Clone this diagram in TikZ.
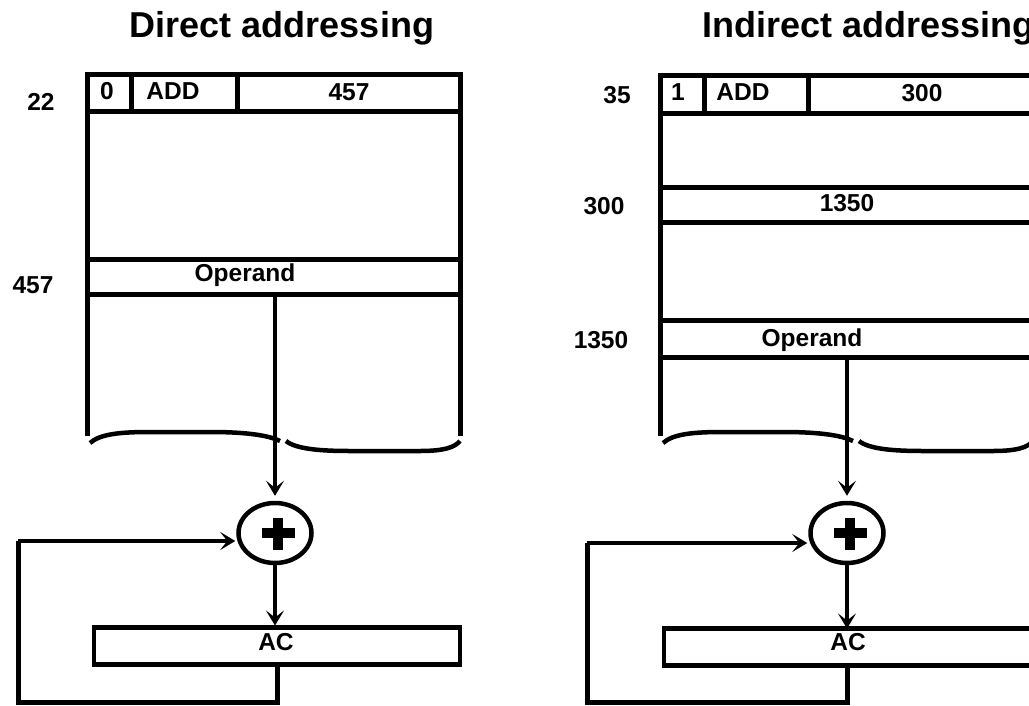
\documentclass[tikz,border=0pt]{standalone}
\usepackage{fontspec}
\setmainfont{Liberation Sans}
\usetikzlibrary{arrows.meta,shapes.geometric}

\tikzset{
  memline/.style={line width=5pt},
  title/.style={font=\fontsize{36}{40}\selectfont\bfseries, anchor=base, inner sep=0pt},
  lbl/.style={font=\fontsize{24.5}{28}\selectfont\bfseries, anchor=base, inner sep=0pt},
  rowbox/.style={draw, line width=5pt, minimum width=373pt, inner sep=0pt, outer sep=0pt},
  accbox/.style={draw, line width=4.5pt, inner sep=0pt, outer sep=0pt},
  adder/.style={draw, ellipse, line width=4.5pt, minimum width=73pt, minimum height=60pt, inner sep=0pt},
  arr/.style={line width=4pt, -{Stealth[length=15pt,width=18pt,inset=7pt]}},
  loopline/.style={line width=5pt, line join=miter},
  bracecurve/.style={line width=4.5pt},
}

% the bold plus sign drawn inside an adder
\newcommand{\plussign}[1]{%
  \fill ([shift={(-13,-5)}]#1.center) rectangle ([shift={(20,5)}]#1.center);
  \fill ([shift={(-2,-15)}]#1.center) rectangle ([shift={(8,17)}]#1.center);
}
% the wavy lower edge of a memory block
\newcommand{\membrace}{%
  \draw[bracecurve] (90,443) .. controls (100,434) and (120,432) .. (150,432)
      -- (210,432) .. controls (250,432) and (270,436) .. (280,441);
  \draw[bracecurve] (286,441) .. controls (296,449) and (320,451) .. (350,451)
      -- (420,451) .. controls (445,451) and (455,447) .. (460,441);
}

\begin{document}
\begin{tikzpicture}[x=1pt,y=-1pt]
\useasboundingbox (0,0) rectangle (1029,705);
\clip (0,0) rectangle (1029,705);

% ---------------- Direct addressing ----------------
\node[title] (tA) at (282,37) {Direct addressing};

% memory block
\draw[memline] (87,436) -- (87,74) -- (460,74) -- (460,436);
\draw[memline] (85,111) -- (462,111);
\draw[memline] (131,74) -- (131,111);
\draw[memline] (237,74) -- (237,111);
\node[rowbox, minimum height=35pt] (opA) at (273.5,276.5) {};
\membrace

\node[lbl] (a22) at (41,110) {22};
\node[lbl] (a457) at (33,293) {457};
\node[lbl] (bitA) at (107,99) {0};
\node[lbl] (opcA) at (173,99) {ADD};
\node[lbl] (adrA) at (349,100) {457};
\node[lbl] (operA) at (245,281) {Operand};

% adder and accumulator
\node[adder] (plusA) at (275,533) {};
\plussign{plusA}
\node[accbox, minimum width=366pt, minimum height=37pt] (acA) at (277,646) {};
\node[lbl] (acTA) at (276,650) {AC};

\coordinate (retA) at (18,541);
\draw[arr, shorten >=5pt] (opA.south -| plusA.north) -- (plusA.north);
\draw[arr, shorten >=2pt] (plusA.south) -- (acA.north -| plusA.south);
\draw[loopline] (acA.south) -- ++(0,38) -| (retA);
\draw[arr, shorten >=1pt] (retA) -- (retA -| plusA.west);

% ---------------- Indirect addressing ----------------
\node[title, anchor=base west] (tB) at (702,37) {Indirect addressing};

% memory block
\draw[memline] (660,436) -- (660,75) -- (1040,75);
\draw[memline] (658,113) -- (1040,113);
\draw[memline] (704,75) -- (704,113);
\draw[memline] (808,75) -- (808,113);
\node[rowbox, minimum height=35pt, anchor=west] (ptrB) at (660,204.5) {};
\node[rowbox, minimum height=37pt, anchor=west] (opB) at (660,338.5) {};
\begin{scope}[xshift=573pt]
  \membrace
\end{scope}

\node[lbl] (b35) at (617,103) {35};
\node[lbl] (b300) at (604,214) {300};
\node[lbl] (b1350) at (601,348) {1350};
\node[lbl] (bitB) at (678,100) {1};
\node[lbl] (opcB) at (743,100) {ADD};
\node[lbl] (adrB) at (922,101) {300};
\node[lbl] (ptrTB) at (847,211) {1350};
\node[lbl] (operB) at (812,346) {Operand};

% adder and accumulator
\node[adder] (plusB) at (847,533) {};
\plussign{plusB}
\node[accbox, minimum width=373pt, minimum height=37pt, anchor=west] (acB) at (664,647) {};
\node[lbl] (acTB) at (848,650) {AC};

\coordinate (retB) at (587,543);
\draw[arr, shorten >=5pt] (opB.south -| plusB.north) -- (plusB.north);
\draw[arr] (plusB.south) -- (acB.north -| plusB.south);
\draw[loopline] (acB.south -| plusB.south) -- ++(0,37) -| (retB);
\draw[arr, shorten >=1pt] (retB) -- (retB -| plusB.west);
\end{tikzpicture}
\end{document}
